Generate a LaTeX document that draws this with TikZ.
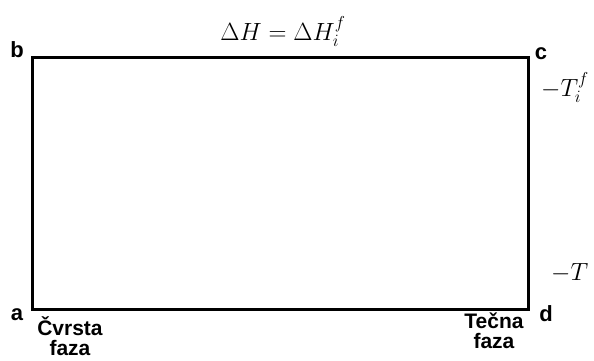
\documentclass[tikz,border=0pt]{standalone}
\usepackage{fontspec}
\setmainfont{Liberation Sans}
\usepackage{amsmath}
\usetikzlibrary{positioning}

\begin{document}
\begin{tikzpicture}[x=1pt, y=-1pt,
  lbl/.style={font=\fontsize{22}{22}\selectfont\bfseries, inner sep=0pt},
  ph/.style={font=\fontsize{21}{20}\selectfont\bfseries, align=center, inner sep=0pt},
  m/.style={font=\fontsize{26}{26}\selectfont, inner sep=0pt},
  box/.style={line width=3pt, line join=miter}]
\useasboundingbox (0,0) rectangle (594,360);
\coordinate (a) at (32,309);
\coordinate (b) at (32,57);
\coordinate (c) at (528,57);
\coordinate (d) at (528,309);
\draw[box] (a) -- (b) -- (c) -- (d) -- cycle;
\node[lbl] (la) at (17,315) {a};
\node[lbl] (lb) at (17,50) {b};
\node[lbl] (lc) at (541,54) {c};
\node[lbl] (ld) at (546,314) {d};
\node[m, anchor=base] (dh) at (283,40) {$\Delta H = \Delta H_i^{f}$};
\node[m, anchor=base west] (tf) at (541,96) {$-T_i^{f}$};
\node[m, anchor=base west] (t) at (551,280) {$-T$};
\node[ph, anchor=north] (cf) at (70,316) {Čvrsta\\faza};
\node[ph, anchor=north] (tcf) at (494,313) {Tečna\\faza};
\end{tikzpicture}
\end{document}
